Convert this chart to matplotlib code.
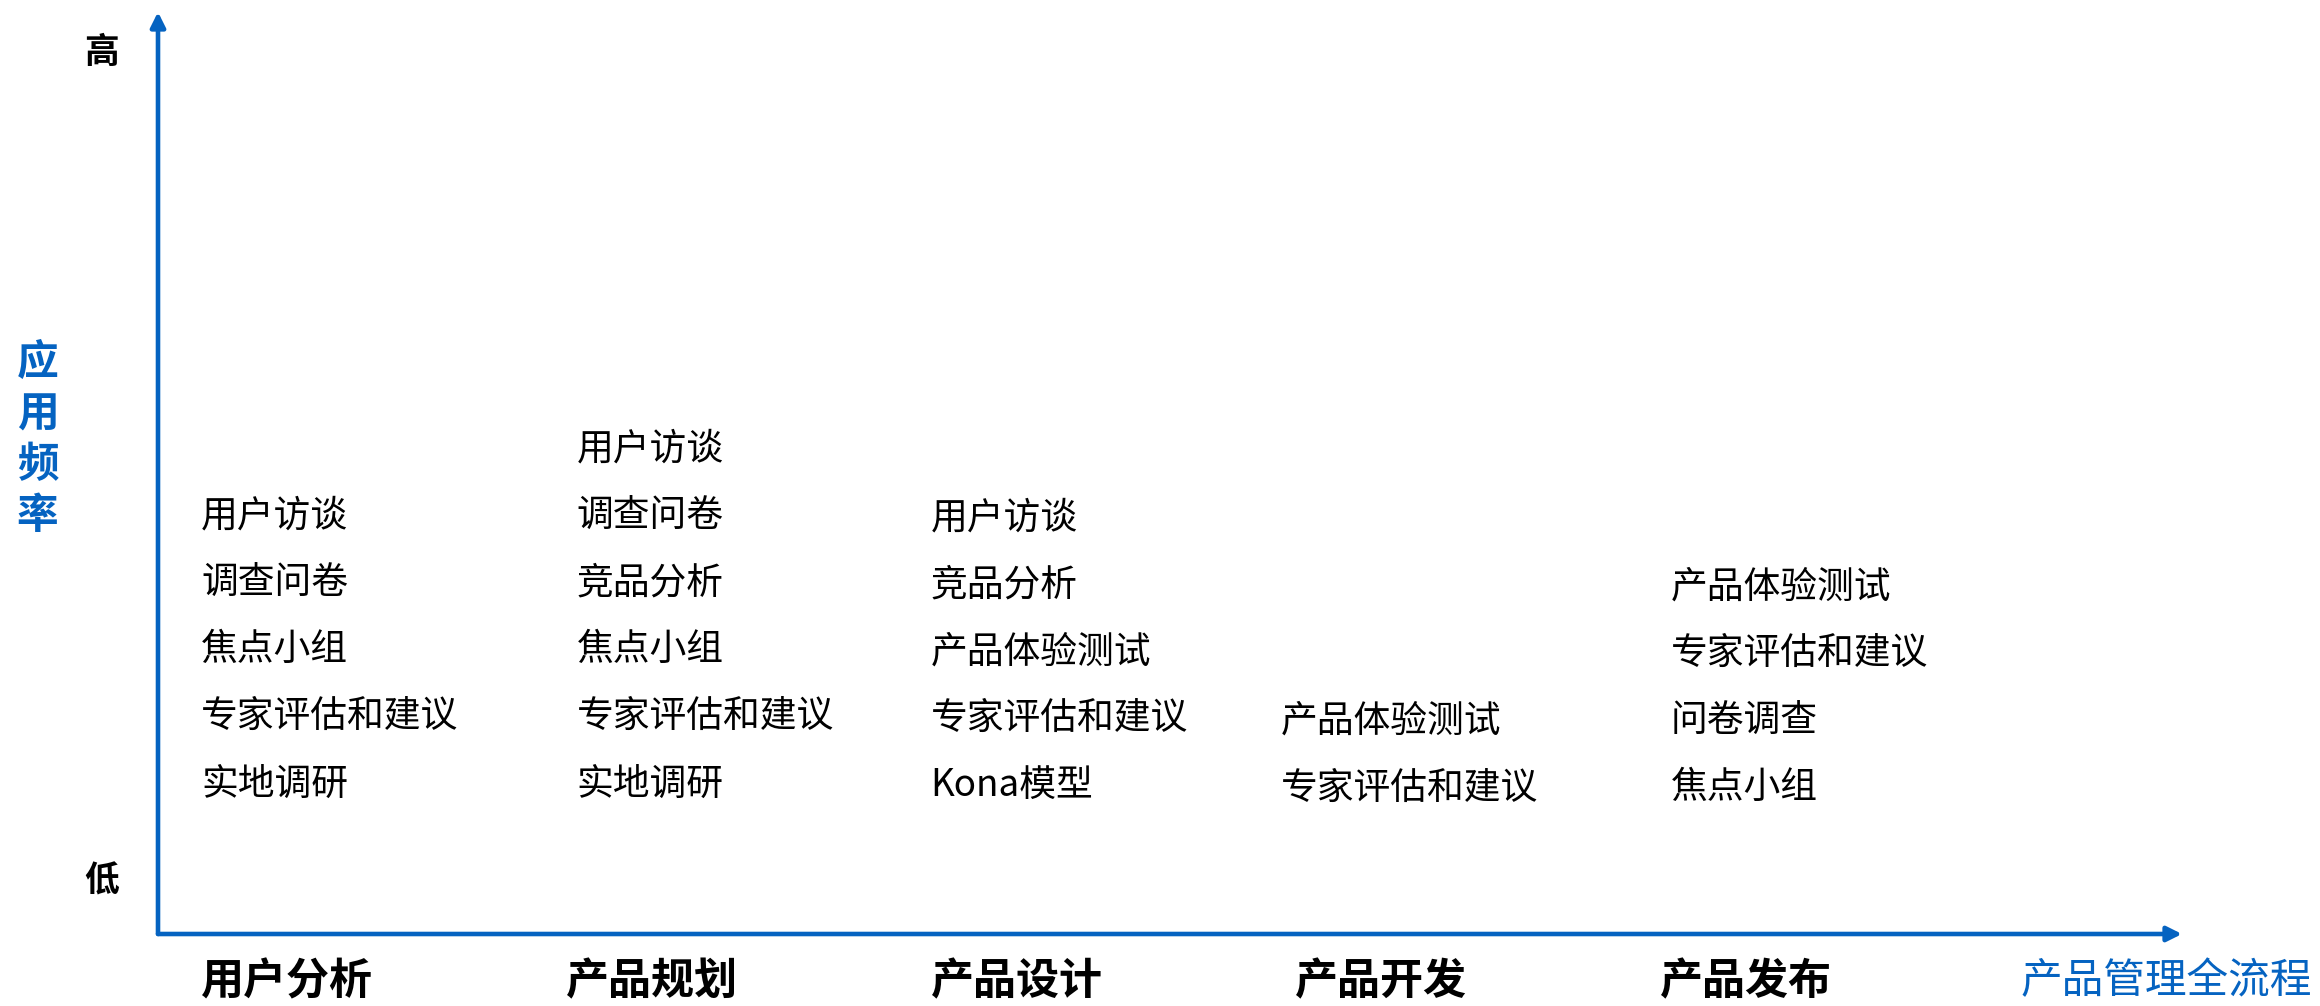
import matplotlib
matplotlib.use("Agg")
import matplotlib.pyplot as plt

plt.rcParams['font.family'] = ['Noto Sans CJK SC', 'DejaVu Sans']

# Product lifecycle stages (x axis)
stages = ["用户分析", "产品规划", "产品设计", "产品开发", "产品发布"]

# Research methods used in each stage, listed top (more frequent) to bottom
methods = [
    ["用户访谈", "调查问卷", "焦点小组", "专家评估和建议", "实地调研"],
    ["用户访谈", "调查问卷", "竞品分析", "焦点小组", "专家评估和建议", "实地调研"],
    ["用户访谈", "竞品分析", "产品体验测试", "专家评估和建议", "Kona模型"],
    ["产品体验测试", "专家评估和建议"],
    ["产品体验测试", "专家评估和建议", "问卷调查", "焦点小组"],
]

freq_labels = ["低", "高"]
x_title = "产品管理全流程"
y_title = "应用频率"

BLUE = "#0563C1"

fig = plt.figure(figsize=(23.2, 10.06), dpi=100)
ax = fig.add_axes([158 / 2320, 72 / 1006, 2024 / 2320, 922 / 1006])

# x: stage index, y: row level (one row per method line)
ax.set_xlim(-0.118, 5.431)
ax.set_ylim(0, 13.76)

for s in ax.spines.values():
    s.set_visible(False)

# Axis arrows
arrow = dict(arrowstyle='-|>', lw=3.3, color=BLUE, mutation_scale=22,
             shrinkA=0, shrinkB=0)
ax.annotate("", xy=(0, 1), xytext=(0, 0), xycoords='axes fraction',
            textcoords='axes fraction', arrowprops=arrow, annotation_clip=False)
ax.annotate("", xy=(1, 0), xytext=(0, 0), xycoords='axes fraction',
            textcoords='axes fraction', arrowprops=arrow, annotation_clip=False)

# Stage labels as x tick labels
ax.set_xticks(range(len(stages)))
ax.set_xticklabels(stages, fontsize=31, fontweight='bold', ha='left')
ax.tick_params(axis='x', length=0, pad=18)

# Frequency ends as y tick labels
ax.set_yticks([0.85, 13.21])
ax.set_yticklabels(freq_labels, fontsize=25, fontweight='bold')
ax.tick_params(axis='y', length=0, pad=28)

# Axis titles
ax.text(-0.0595, 0.536, "\n".join(y_title), transform=ax.transAxes,
        fontsize=30, fontweight='bold', color=BLUE, ha='center', va='center',
        linespacing=1.27)
ax.text(1.064, -0.0735, x_title, transform=ax.transAxes, fontsize=30,
        color=BLUE, ha='right', va='bottom', clip_on=False)

# Method lists, anchored at the bottom row and stacked upward
col_dx = [0.0, 0.03, 0.0, -0.04, 0.03]
col_dy = [0.0, 0.0, -0.03, -0.07, -0.06]
base_row = 2.24
for i, items in enumerate(methods):
    n = len(items)
    for k, name in enumerate(items):
        ax.text(i + col_dx[i], base_row + col_dy[i] + (n - 1 - k), name,
                fontsize=26.5, ha='left', va='center', color='black')

fig.savefig("out.png", dpi=100, facecolor='white')
